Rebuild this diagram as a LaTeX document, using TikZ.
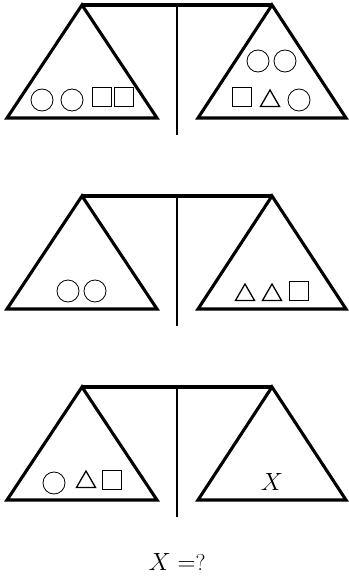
\documentclass[tikz,border=0pt]{standalone}
\usetikzlibrary{shapes.geometric}

\begin{document}
\begin{tikzpicture}[
  x=1pt, y=-1pt,
  pan/.style={line width=3.1pt, line join=miter},
  beam/.style={line width=3.3pt},
  post/.style={line width=1.8pt},
  ball/.style={draw, circle, line width=0.8pt, minimum size=22pt, inner sep=0pt},
  box/.style={draw, rectangle, line width=0.8pt, minimum size=18.5pt, inner sep=0pt},
  tri/.style={draw, regular polygon, regular polygon sides=3, line width=1.3pt,
              minimum size=22pt, inner sep=0pt},
  big/.style={font=\fontsize{23}{27}\selectfont},
]
\useasboundingbox (0,0) rectangle (348,583);

% Three balances
\foreach \y [count=\i] in {5,196,387} {
  \coordinate (la\i) at (82,\y);
  \coordinate (ra\i) at (272,\y);
  \coordinate (top\i) at (177,\y);
  \coordinate (foot\i) at (177,\y+130);
  \draw[pan] (la\i) -- ++(-75,113) -- ++(150,0) -- cycle;
  \draw[pan] (ra\i) -- ++(-74,113) -- ++(148,0) -- cycle;
  \draw[beam] (la\i) -- (ra\i);
  \draw[post] (top\i) -- (foot\i);
}

% Balance 1
\node[ball] (c1a) at (42,100) {};
\node[ball] (c1b) at (72,100) {};
\node[box] (s1a) at (102,97) {};
\node[box] (s1b) at (124,97) {};
\node[ball] (c1c) at (258,61) {};
\node[ball] (c1d) at (285,61) {};
\node[box] (s1c) at (242,97) {};
\node[tri] (t1a) at (270,101) {};
\node[ball] (c1e) at (299,100) {};

% Balance 2
\node[ball] (c2a) at (68,291) {};
\node[ball] (c2b) at (95,291) {};
\node[tri] (t2a) at (245,295) {};
\node[tri] (t2b) at (272,295) {};
\node[box] (s2a) at (299,291) {};

% Balance 3
\node[ball] (c3a) at (54,483) {};
\node[tri] (t3a) at (86,482) {};
\node[box] (s3a) at (112,480) {};
\node[big] (x3) at (272,482) {$X$};

% Question
\node[big] (ask) at (177,562) {$X=$?};
\end{tikzpicture}
\end{document}
